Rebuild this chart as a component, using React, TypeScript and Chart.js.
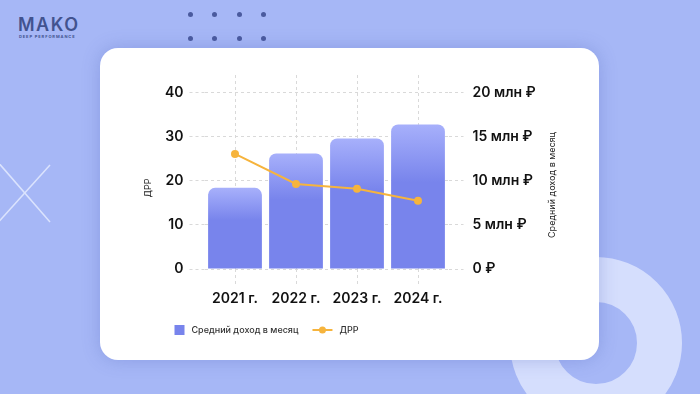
import React, { useEffect, useRef } from "react";
import { Chart, registerables } from "chart.js";

Chart.register(...registerables);

const categories = ["2021 г.", "2022 г.", "2023 г.", "2024 г."];
const incomeLabel = "Средний доход в месяц";
const drrLabel = "ДРР";
const incomeValues = [9200000, 13100000, 14800000, 16400000];
const drrValues = [26.1, 19.3, 18.2, 15.5];
const drrTicks = [0, 10, 20, 30, 40];
const incomeTicks = [0, 5000000, 10000000, 15000000, 20000000];

const FONT = "Inter, 'Open Sans', sans-serif";
const BAR_TOP = "#a7b0fb";
const BAR_MAIN = "#7884ec";
const LINE_COLOR = "#f6b43d";
const GRID = "#d9d9d9";

const fmtRub = (v: number) => (v === 0 ? "0 ₽" : `${v / 1000000} млн ₽`);

const overlayPlugin = {
  id: "overlay",
  afterDraw(chart: any) {
    const { ctx, chartArea } = chart;
    const midY = (chartArea.top + chartArea.bottom) / 2 + 16;
    ctx.save();
    ctx.fillStyle = "#222";
    ctx.font = `400 9px ${FONT}`;
    ctx.textAlign = "center";
    ctx.textBaseline = "middle";
    ctx.save();
    ctx.translate(chartArea.left - 56, midY);
    ctx.rotate(-Math.PI / 2);
    ctx.fillText(drrLabel, 0, 0);
    ctx.restore();
    ctx.save();
    ctx.translate(chartArea.right + 104, midY - 3);
    ctx.rotate(-Math.PI / 2);
    ctx.fillText(incomeLabel, 0, 0);
    ctx.restore();

    // legend
    const ly = chartArea.bottom + 61;
    let x = chartArea.left - 30;
    const ds = chart.data.datasets;
    ctx.textAlign = "left";
    ctx.fillStyle = BAR_MAIN;
    ctx.fillRect(x, ly - 5, 10, 10);
    ctx.fillStyle = "#333";
    ctx.font = `500 9px ${FONT}`;
    ctx.fillText(ds[0].label, x + 17, ly);
    x += 17 + ctx.measureText(ds[0].label).width + 14;
    ctx.strokeStyle = LINE_COLOR;
    ctx.lineWidth = 2;
    ctx.beginPath();
    ctx.moveTo(x, ly);
    ctx.lineTo(x + 20, ly);
    ctx.stroke();
    ctx.fillStyle = LINE_COLOR;
    ctx.beginPath();
    ctx.arc(x + 10, ly, 3.5, 0, Math.PI * 2);
    ctx.fill();
    ctx.fillStyle = "#333";
    ctx.fillText(ds[1].label, x + 27, ly);
    ctx.restore();
  },
};

function ChartCard() {
  const ref = useRef<HTMLCanvasElement | null>(null);
  useEffect(() => {
    if (!ref.current) return;
    const tickFont = { family: FONT, size: 14, weight: "600" };
    const chart = new Chart(ref.current, {
      data: {
        labels: categories,
        datasets: [
          {
            type: "bar",
            label: incomeLabel,
            data: incomeValues,
            yAxisID: "yR",
            order: 2,
            barPercentage: 0.9,
            categoryPercentage: 0.98,
            borderRadius: { topLeft: 7, topRight: 7, bottomLeft: 0, bottomRight: 0 },
            borderSkipped: "bottom",
            backgroundColor: (c: any) => {
              const ch = c.chart;
              if (!ch.chartArea || c.type !== "data") return BAR_MAIN;
              const s = ch.scales.yR;
              const top = s.getPixelForValue(c.raw);
              const base = s.getPixelForValue(0);
              const g = ch.ctx.createLinearGradient(0, top, 0, base);
              g.addColorStop(0, BAR_TOP);
              g.addColorStop(0.4, BAR_MAIN);
              g.addColorStop(1, BAR_MAIN);
              return g;
            },
          },
          {
            type: "line",
            label: drrLabel,
            data: drrValues,
            yAxisID: "yL",
            order: 1,
            borderColor: LINE_COLOR,
            backgroundColor: LINE_COLOR,
            borderWidth: 2,
            pointRadius: 4,
            pointBorderWidth: 0,
            tension: 0,
          },
        ],
      } as any,
      options: {
        animation: false,
        responsive: true,
        maintainAspectRatio: false,
        layout: { padding: { top: 27, bottom: 51, left: 0, right: 0 } },
        plugins: { legend: { display: false }, tooltip: { enabled: false } },
        scales: {
          x: {
            grid: { offset: false, color: GRID, tickLength: 18, tickBorderDash: [3, 3], tickColor: GRID },
            border: { display: false, dash: [3, 3] },
            ticks: { color: "#111", font: tickFont, padding: 3, maxRotation: 0 },
            afterFit: (s: any) => {
              s.height = 40;
            },
          },
          yL: {
            position: "left",
            min: 0,
            max: 44,
            ticks: { color: "#111", padding: 6, font: tickFont },
            afterBuildTicks: (s: any) => {
              s.ticks = drrTicks.map((v) => ({ value: v }));
            },
            grid: { color: GRID, tickLength: 15, tickBorderDash: [3, 3], tickColor: GRID },
            border: { display: false, dash: [3, 3] },
            afterFit: (s: any) => {
              s.width = 104.5;
            },
          },
          yR: {
            position: "right",
            min: 0,
            max: 22000000,
            ticks: {
              color: "#111",
              padding: 9,
              font: tickFont,
              callback: (v: any) => fmtRub(Number(v)),
            },
            afterBuildTicks: (s: any) => {
              s.ticks = incomeTicks.map((v) => ({ value: v }));
            },
            grid: { drawOnChartArea: false, color: GRID, tickLength: 15, tickBorderDash: [3, 3], tickColor: GRID },
            border: { display: false },
            afterFit: (s: any) => {
              s.width = 150.5;
            },
          },
        },
      } as any,
      plugins: [overlayPlugin],
    });
    return () => chart.destroy();
  }, []);
  return <canvas ref={ref} />;
}

export default function App() {
  const dots = [];
  for (let r = 0; r < 2; r++)
    for (let c = 0; c < 4; c++)
      dots.push(
        <div
          key={`${r}-${c}`}
          style={{
            position: "absolute",
            left: 188 + c * 24.3,
            top: 12 + r * 24,
            width: 5,
            height: 5,
            borderRadius: "50%",
            background: "#4a5a9e",
          }}
        />
      );
  return (
    <div
      style={{
        position: "absolute",
        left: 0,
        top: 0,
        width: 700,
        height: 394,
        overflow: "hidden",
        background: "#a6b7f6",
        fontFamily: FONT,
      }}
    >
      <div style={{ position: "absolute", left: 18, top: 15, color: "#42538f", fontWeight: 600, fontSize: 18, letterSpacing: 1.5, lineHeight: "20px" }}>
        MAKO
      </div>
      <div style={{ position: "absolute", left: 19, top: 34, color: "#42538f", fontWeight: 700, fontSize: 4, letterSpacing: 0.9, lineHeight: "5px" }}>
        DEEP PERFORMANCE
      </div>
      {dots}
      <svg style={{ position: "absolute", left: 0, top: 150 }} width={110} height={90}>
        <line x1={-10} y1={3} x2={50} y2={72} stroke="#dbe3fd" strokeWidth={1.5} />
        <line x1={50} y1={15} x2={-5} y2={76} stroke="#dbe3fd" strokeWidth={1.5} />
      </svg>
      <div
        style={{
          position: "absolute",
          left: 596 - 86,
          top: 343 - 86,
          width: 172,
          height: 172,
          borderRadius: "50%",
          boxSizing: "border-box",
          border: "45px solid #d5defd",
        }}
      />
      <div
        style={{
          position: "absolute",
          left: 100,
          top: 48,
          width: 499,
          height: 312,
          background: "#ffffff",
          borderRadius: 18,
          boxShadow: "0 0 18px rgba(70,90,180,0.28)",
        }}
      >
        <div style={{ position: "absolute", left: 0, top: 0, width: 499, height: 312 }}>
          <ChartCard />
        </div>
      </div>
    </div>
  );
}
